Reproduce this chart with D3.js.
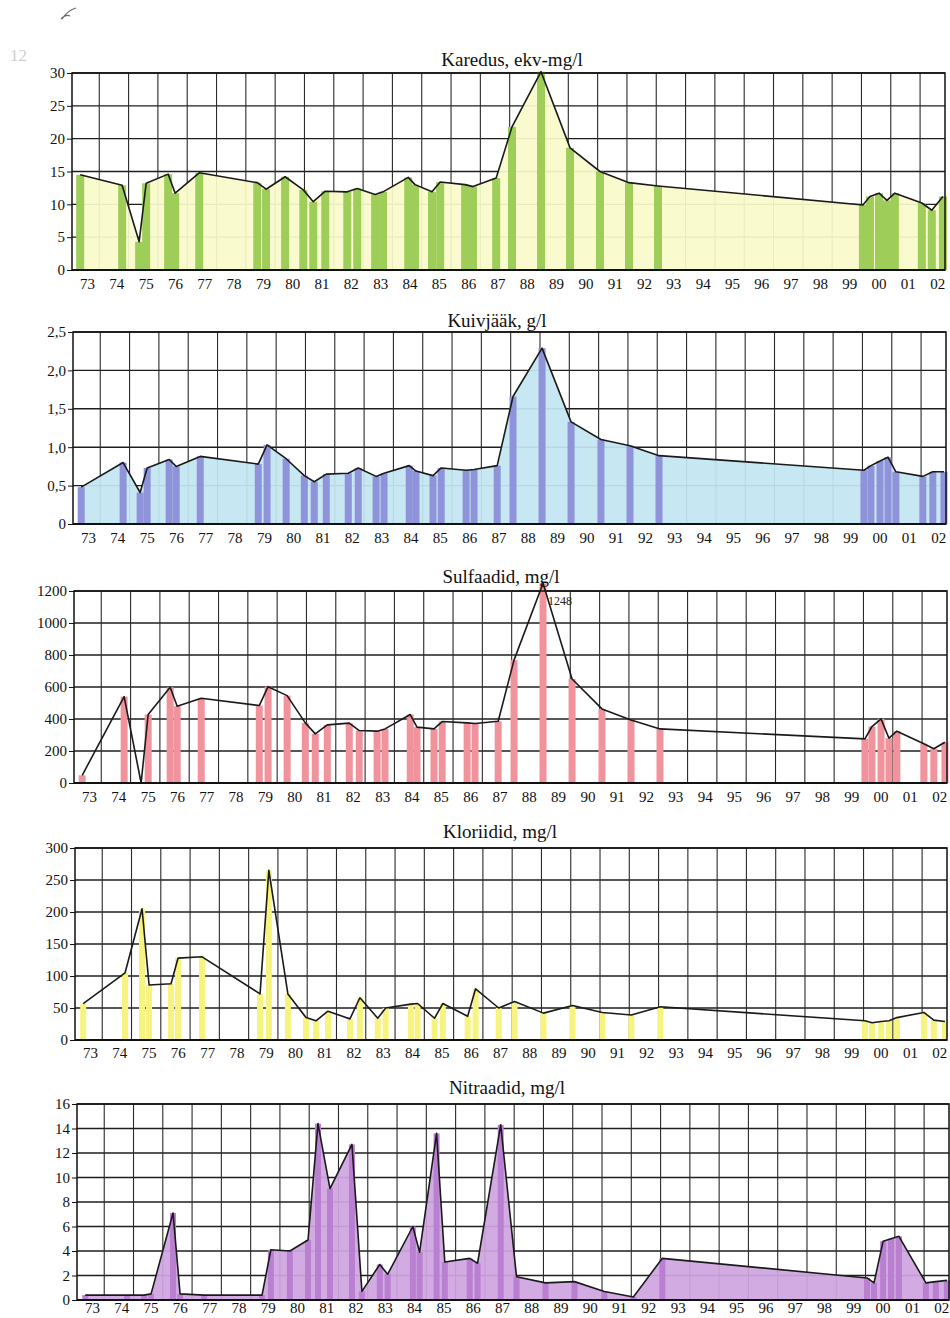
<!DOCTYPE html>
<html>
<head>
<meta charset="utf-8">
<script src="https://cdn.jsdelivr.net/npm/d3@7"></script>
<style>
  body { margin: 0; background: #fff; }
  svg { display: block; font-family: "Liberation Serif", "Times New Roman", serif; }
</style>
</head>
<body>
<svg id="chart" width="950" height="1318"></svg>
<script>
// Sampling dates (decimal years) shared by all five series
const sampleDates = [
  1973.35, 1974.78, 1975.36, 1975.60, 1976.35, 1976.59, 1977.41, 1979.39, 1979.69, 1980.34,
  1980.96, 1981.30, 1981.71, 1982.46, 1982.80, 1983.41, 1983.68, 1984.54, 1984.77, 1985.35,
  1985.63, 1986.48, 1986.75, 1987.54, 1988.08, 1989.07, 1990.06, 1991.08, 1992.07, 1993.06,
  2000.05, 2000.29, 2000.60, 2000.87, 2001.14, 2002.06, 2002.40, 2002.78
];

const yearLabels = ["73","74","75","76","77","78","79","80","81","82","83","84","85","86","87",
  "88","89","90","91","92","93","94","95","96","97","98","99","00","01","02"];

// Hardness, ekv-mg/l
const karedus = [14.5, 12.9, 4.3, 13.2, 14.6, 11.7, 14.8, 13.3, 12.3, 14.2,
  12.2, 10.4, 12.0, 11.9, 12.4, 11.5, 11.9, 14.1, 13.0, 11.9,
  13.4, 13.0, 12.7, 14.0, 21.8, 30.2, 18.6, 15.0, 13.3, 12.8,
  9.9, 11.2, 11.7, 10.6, 11.7, 10.2, 9.1, 11.2];

// Dry residue, g/l
const kuivjaak = [0.48, 0.80, 0.41, 0.73, 0.84, 0.75, 0.88, 0.78, 1.03, 0.85,
  0.63, 0.55, 0.65, 0.66, 0.73, 0.62, 0.66, 0.76, 0.69, 0.63,
  0.73, 0.70, 0.71, 0.76, 1.66, 2.29, 1.33, 1.10, 1.02, 0.89,
  0.70, 0.76, 0.82, 0.87, 0.68, 0.62, 0.68, 0.68];

// Sulphates, mg/l
const sulfaadid = [48, 540, 0, 428, 598, 480, 530, 484, 602, 546,
  376, 307, 363, 374, 328, 324, 338, 428, 349, 338,
  384, 376, 372, 386, 768, 1248, 650, 463, 394, 338,
  276, 353, 401, 280, 324, 245, 214, 255];

// Chlorides, mg/l
const kloriidid = [57, 105, 205, 86, 88, 128, 130, 72, 265, 72,
  35, 30, 45, 33, 66, 34, 50, 56, 57, 34,
  57, 37, 80, 50, 60, 42, 54, 43, 39, 52,
  30, 27, 29, 30, 35, 43, 31, 29];

// Nitrates, mg/l
const nitraadid = [0.4, 0.4, 0.4, 0.5, 7.1, 0.5, 0.4, 0.4, 4.1, 4.0,
  4.9, 14.4, 9.1, 12.7, 0.7, 2.9, 2.1, 6.0, 3.9, 13.6,
  3.1, 3.4, 3.0, 14.3, 1.9, 1.4, 1.5, 0.7, 0.25, 3.4,
  1.8, 1.4, 4.8, 5.0, 5.2, 1.4, 1.5, 1.6];

const karedusTicks = [0, 5, 10, 15, 20, 25, 30];
const kuivjaakTicks = [0, 0.5, 1, 1.5, 2, 2.5];
const sulfaadidTicks = [0, 200, 400, 600, 800, 1000, 1200];
const kloriididTicks = [0, 50, 100, 150, 200, 250, 300];
const nitraadidTicks = [0, 2, 4, 6, 8, 10, 12, 14, 16];

const xDomain = [1973.07, 2002.85];

const commaFmt = d => d === 0 ? "0" : d3.format(".1f")(d).replace(".", ",");
const plainFmt = d => String(d);

const panels = [
  { title: "Karedus, ekv-mg/l", values: karedus, ticks: karedusTicks, fmt: plainFmt,
    box: { left: 72, right: 945, top: 73, bottom: 270 }, titleX: 512, titleY: 66, labelDy: 19,
    fill: "#fafacb", bar: "#9fcd5a", barW: 8 },
  { title: "Kuivjääk, g/l", values: kuivjaak, ticks: kuivjaakTicks, fmt: commaFmt,
    box: { left: 73, right: 946, top: 332, bottom: 524 }, titleX: 497, titleY: 327, labelDy: 19,
    fill: "#c3e6f1", bar: "#8f93d9", barW: 7 },
  { title: "Sulfaadid, mg/l", values: sulfaadid, ticks: sulfaadidTicks, fmt: plainFmt,
    box: { left: 74, right: 947, top: 591, bottom: 783 }, titleX: 501, titleY: 583, labelDy: 19,
    fill: null, bar: "#f0939c", barW: 7 },
  { title: "Kloriidid, mg/l", values: kloriidid, ticks: kloriididTicks, fmt: plainFmt,
    box: { left: 75, right: 947, top: 848, bottom: 1040 }, titleX: 500, titleY: 838, labelDy: 18,
    fill: null, bar: "#f6f37f", barW: 6 },
  { title: "Nitraadid, mg/l", values: nitraadid, ticks: nitraadidTicks, fmt: plainFmt,
    box: { left: 77, right: 949, top: 1104, bottom: 1300 }, titleX: 507, titleY: 1094, labelDy: 13,
    fill: "#d0a5e1", bar: "#b97fd0", barW: 6 }
];

const svg = d3.select("#chart");

// page number and pencil tick in the margin
svg.append("text").attr("x", 10).attr("y", 61).attr("font-size", 17)
  .attr("fill", "#cfcfcf").text("12");
svg.append("path").attr("d", "M61,19 Q66,14 70,16 M62,19 Q68,10 76,8")
  .attr("fill", "none").attr("stroke", "#6a6a6a").attr("stroke-width", 1.2);

panels.forEach(p => {
  const b = p.box;
  const g = svg.append("g");
  const x = d3.scaleLinear().domain(xDomain).range([b.left, b.right]);
  const y = d3.scaleLinear().domain([0, d3.max(p.ticks)]).range([b.bottom, b.top]);
  const pts = sampleDates.map((d, i) => ({ d, v: p.values[i] }));

  // grid
  g.append("g").selectAll("line").data(p.ticks).join("line")
    .attr("x1", b.left).attr("x2", b.right)
    .attr("y1", d => y(d)).attr("y2", d => y(d))
    .attr("stroke", "#1e1e1e").attr("stroke-width", 1.4);
  g.append("g").selectAll("line").data(d3.range(1974, 2003)).join("line")
    .attr("x1", d => x(d)).attr("x2", d => x(d))
    .attr("y1", b.top).attr("y2", b.bottom)
    .attr("stroke", "#2a2a2a").attr("stroke-width", 1.1);

  // shaded area under the curve
  if (p.fill) {
    g.append("path").datum(pts)
      .attr("d", d3.area().x(d => x(d.d)).y0(b.bottom).y1(d => y(d.v)))
      .attr("fill", p.fill).attr("fill-opacity", 0.93);
  }

  // sample columns
  g.append("g").selectAll("rect").data(pts).join("rect")
    .attr("x", d => x(d.d) - p.barW / 2).attr("width", p.barW)
    .attr("y", d => y(d.v)).attr("height", d => b.bottom - y(d.v))
    .attr("fill", p.bar);

  // connecting line
  g.append("path").datum(pts)
    .attr("d", d3.line().x(d => x(d.d)).y(d => y(d.v)))
    .attr("fill", "none").attr("stroke", "#1a1a1a").attr("stroke-width", 1.6)
    .attr("stroke-linejoin", "round");

  // frame
  g.append("rect").attr("x", b.left).attr("y", b.top)
    .attr("width", b.right - b.left).attr("height", b.bottom - b.top)
    .attr("fill", "none").attr("stroke", "#111").attr("stroke-width", 1.5);
  g.append("line").attr("x1", b.left).attr("x2", b.right)
    .attr("y1", b.bottom).attr("y2", b.bottom)
    .attr("stroke", "#111").attr("stroke-width", 2.2);

  // value axis
  const ax = g.append("g").attr("transform", `translate(${b.left},0)`)
    .call(d3.axisLeft(y).tickValues(p.ticks).tickSize(5).tickPadding(2).tickFormat(p.fmt));
  ax.select(".domain").remove();
  ax.selectAll("line").attr("stroke", "#111");
  ax.selectAll("text").attr("font-size", 15).attr("fill", "#111")
    .attr("font-family", "Liberation Serif, Times New Roman, serif");

  // year labels
  g.append("g").selectAll("text").data(yearLabels).join("text")
    .attr("x", (d, i) => x(1973 + i + 0.6)).attr("y", b.bottom + p.labelDy)
    .attr("text-anchor", "middle").attr("font-size", 15).attr("fill", "#111")
    .text(d => d);

  // title
  g.append("text").attr("x", p.titleX).attr("y", p.titleY)
    .attr("text-anchor", "middle").attr("font-size", 19).attr("fill", "#111")
    .text(p.title);

  // peak value note for sulphates
  if (p.values === sulfaadid) {
    const i = sulfaadid.indexOf(d3.max(sulfaadid));
    g.append("text").attr("x", x(sampleDates[i]) + 5).attr("y", y(1200) + 14)
      .attr("font-size", 12).attr("fill", "#222").text(sulfaadid[i]);
  }
});
</script>
</body>
</html>
